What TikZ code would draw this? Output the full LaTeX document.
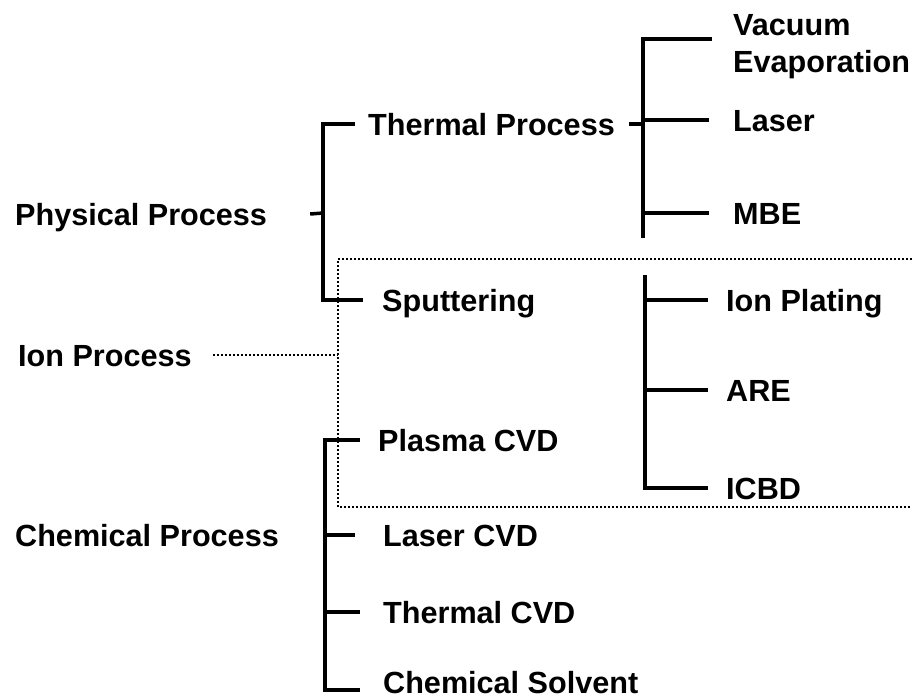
\documentclass[tikz,border=0pt]{standalone}
\usepackage{fontspec}
\setmainfont{Liberation Sans}

\begin{document}
\begin{tikzpicture}[x=1pt, y=-1pt,
		txt/.style={inner sep=0pt, font=\bfseries\fontsize{30.6}{37}\selectfont},
		lbl/.style={txt, anchor=west, text height=22pt, text depth=0pt},
		branch/.style={line width=3.5pt},
		ionline/.style={line width=2.4pt, dash pattern=on 2pt off 2pt}]
			\useasboundingbox (0,0) rectangle (912,699);

			\node[lbl] (phys) at (15,214) {Physical Process};
			\node[lbl] (ion) at (18,355) {Ion Process};
			\node[lbl] (chem) at (15,535) {Chemical Process};

			\node[lbl] (thermal) at (368,124) {Thermal Process};
			\node[lbl] (sputter) at (382,300) {Sputtering};
			\node[lbl] (plasma) at (378,440) {Plasma CVD};
			\node[lbl] (lasercvd) at (383,535) {Laser CVD};
			\node[lbl] (thermcvd) at (383,612) {Thermal CVD};
			\node[lbl] (solvent) at (383,682) {Chemical Solvent};

			\node[txt, align=left, anchor=north west] (vac) at (733,14) {Vacuum\\Evaporation};
			\node[lbl] (laser) at (733,120) {Laser};
			\node[lbl] (mbe) at (733,213) {MBE};

			\node[lbl] (plating) at (726,300) {Ion Plating};
			\node[lbl] (are) at (726,390) {ARE};
			\node[lbl] (icbd) at (726,488) {ICBD};

			\coordinate (pspine) at (323,213);
			\draw[branch] ([xshift=43pt]phys.east) -- (pspine);
			\draw[branch] ([xshift=-13pt]thermal.west) -- (thermal.west -| pspine) -- (sputter.west -| pspine) -- ([xshift=-19pt]sputter.west);

			\coordinate (ttop) at (643,39);
			\coordinate (tbot) at (643,238);
			\coordinate (vacend) at (712,39);
			\draw[branch] ([xshift=14pt]thermal.east) -- (thermal.east -| ttop);
			\draw[branch] (vacend) -- (ttop) -- (tbot);
			\draw[branch] (laser.west -| ttop) -- ([xshift=-24pt]laser.west);
			\draw[branch] (mbe.west -| ttop) -- ([xshift=-24pt]mbe.west);

			\coordinate (itop) at (645,275);
			\draw[branch] (itop) -- (icbd.west -| itop) -- ([xshift=-18pt]icbd.west);
			\draw[branch] (plating.west -| itop) -- ([xshift=-18pt]plating.west);
			\draw[branch] (are.west -| itop) -- ([xshift=-18pt]are.west);

			\coordinate (cspine) at (325,0);
			\coordinate (cbot) at (325,690);
			\draw[branch] ([xshift=-18pt]plasma.west) -- (plasma.west -| cspine) -- (cbot) -- ([xshift=-23pt]solvent.west |- cbot);
			\draw[branch] (lasercvd.west -| cspine) -- ([xshift=-28pt]lasercvd.west);
			\draw[branch] (thermcvd.west -| cspine) -- ([xshift=-23pt]thermcvd.west);

			\coordinate (boxtr) at (912,259);
			\coordinate (boxtl) at (338,259);
			\coordinate (boxbl) at (338,507);
			\coordinate (boxbr) at (912,507);
			\draw[ionline] (boxtr) -- (boxtl) -- (boxbl) -- (boxbr);
			\draw[ionline] ([xshift=21pt]ion.east) -- (ion.east -| boxtl);
		\end{tikzpicture}
\end{document}
